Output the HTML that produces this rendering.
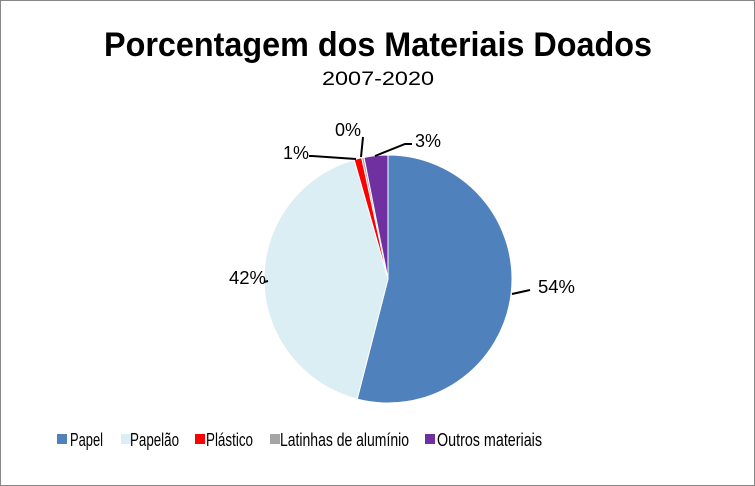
<!DOCTYPE html>
<html><head><meta charset="utf-8"><style>
html,body{margin:0;padding:0;background:#fff}
svg{display:block;font-family:"Liberation Sans",sans-serif}
</style></head><body>
<svg id="s" width="755" height="486" viewBox="0 0 755 486">
<rect x="0.5" y="0.5" width="754" height="485" fill="#fff" stroke="#868686"/>
<text x="378" y="56" text-anchor="middle" font-size="34" font-weight="bold" textLength="548" lengthAdjust="spacingAndGlyphs">Porcentagem dos Materiais Doados</text>
<text x="378" y="85" text-anchor="middle" font-size="19" textLength="112" lengthAdjust="spacingAndGlyphs">2007-2020</text>
<g id="pie"></g>
<g stroke="#000" stroke-width="2" fill="none">
<polyline points="512,294 530,290"/>
<polyline points="268,281 264,282"/>
<polyline points="356,159 312,156 309,156"/>
<polyline points="361,157 363,137"/>
<polyline points="375,156 405,144 412,144"/>
</g>
<g font-size="18">
<text x="538" y="293" textLength="37" lengthAdjust="spacingAndGlyphs">54%</text>
<text x="229" y="284" textLength="37" lengthAdjust="spacingAndGlyphs">42%</text>
<text x="283" y="159" textLength="26" lengthAdjust="spacingAndGlyphs">1%</text>
<text x="335" y="136" textLength="26" lengthAdjust="spacingAndGlyphs">0%</text>
<text x="415" y="147" textLength="26" lengthAdjust="spacingAndGlyphs">3%</text>
</g>
<g font-size="18">
<rect x="57" y="434" width="10" height="10" fill="#4f81bd"/><text x="70" y="446" textLength="33" lengthAdjust="spacingAndGlyphs">Papel</text>
<rect x="121" y="434" width="10" height="10" fill="#dbeef4"/><text x="130" y="446" textLength="49" lengthAdjust="spacingAndGlyphs">Papelão</text>
<rect x="195" y="434" width="10" height="10" fill="#ff0000"/><text x="206" y="446" textLength="47" lengthAdjust="spacingAndGlyphs">Plástico</text>
<rect x="270" y="434" width="10" height="10" fill="#a5a5a5"/><text x="280" y="446" textLength="129" lengthAdjust="spacingAndGlyphs">Latinhas de alumínio</text>
<rect x="425" y="434" width="10" height="10" fill="#7030a0"/><text x="437" y="446" textLength="105" lengthAdjust="spacingAndGlyphs">Outros materiais</text>
</g>
</svg>
<script>
var d=[[54.0,"#4f81bd"],[41.6,"#dbeef4"],[1.0,"#ff0000"],[0.3,"#a5a5a5"],[3.1,"#7030a0"]];
var cx=388,cy=279,r=124,a=0,g=document.getElementById("pie"),h="";
d.forEach(function(v){var b=a+v[0]/100*2*Math.PI;
var x1=cx+r*Math.sin(a),y1=cy-r*Math.cos(a),x2=cx+r*Math.sin(b),y2=cy-r*Math.cos(b);
h+='<path d="M'+cx+','+cy+' L'+x1+','+y1+' A'+r+','+r+' 0 '+((b-a)>Math.PI?1:0)+' 1 '+x2+','+y2+' Z" fill="'+v[1]+'" stroke="#fff" stroke-width="1"/>';a=b;});
g.innerHTML=h;
</script>
</body></html>
